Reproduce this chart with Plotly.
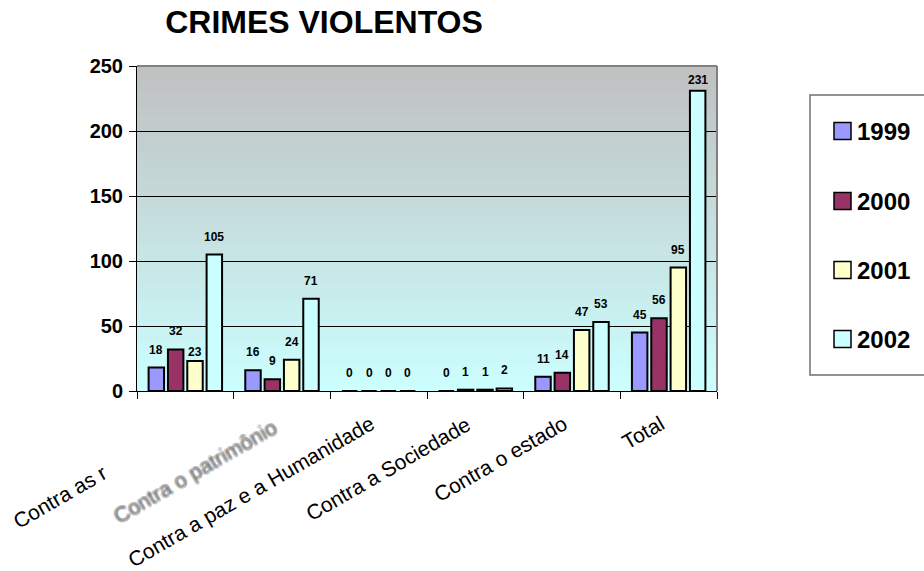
import math
import plotly.graph_objects as go

# --- data -------------------------------------------------------------
categories = ["Contra as r", "Contra o patrimônio", "Contra a paz e a Humanidade",
              "Contra a Sociedade", "Contra o estado", "Total"]
years = ["1999", "2000", "2001", "2002"]
v1999 = [18, 16, 0, 0, 11, 45]
v2000 = [32, 9, 0, 1, 14, 56]
v2001 = [23, 24, 0, 1, 47, 95]
v2002 = [105, 71, 0, 2, 53, 231]
series = [v1999, v2000, v2001, v2002]
colors = ["#9999ff", "#993366", "#ffffcc", "#ccffff"]
y_ticks = [0, 50, 100, 150, 200, 250]

# --- layout geometry (pixels) ----------------------------------------
W, H = 924, 571
L, R, T, B = 137, 207, 66, 180
PW, PH = W - L - R, H - T - B
FONT = "Liberation Sans, Arial"
BARGAP, GROUPGAP = 0.2, 0.2


def px_x(p):
    return (p - L) / PW


def px_y(p):
    return (H - B - p) / PH


fig = go.Figure()

for name, vals, col in zip(years, series, colors):
    fig.add_trace(go.Bar(
        x=categories, y=vals, name=name,
        marker=dict(color=col, line=dict(color="black", width=2)),
        showlegend=False,
    ))

annotations = []

# value labels above each bar
slot = (1 - BARGAP) / len(years)
label_lift = {(2, 0): 9, (3, 5): 11}   # (series, category) -> lift in px where labels sit lower
for si, vals in enumerate(series):
    off = -(1 - BARGAP) / 2 + slot * (si + 0.5)
    for ci, v in enumerate(vals):
        annotations.append(dict(
            text=str(v), x=ci + off, y=v, xref="x", yref="y",
            xanchor="center", yanchor="middle", yshift=label_lift.get((si, ci), 18),
            showarrow=False,
            font=dict(family=FONT, size=12, color="black", weight="bold")))

shapes = []
# vertical gradient background: grey at top fading to pale cyan at the base
top_c, bot_c = (192, 192, 192), (204, 255, 255)
N = 80
for i in range(N):
    t = (i + 0.5) / N
    c = tuple(round(bot_c[k] + (top_c[k] - bot_c[k]) * t) for k in range(3))
    shapes.append(dict(type="rect", xref="x domain", yref="y domain",
                       x0=0, x1=1, y0=i / N, y1=(i + 1) / N + 0.002,
                       fillcolor="rgb(%d,%d,%d)" % c, line=dict(width=0), layer="below"))
# grey frame on top and right of the plot area
shapes.append(dict(type="line", xref="x domain", yref="y domain", x0=0, x1=1, y0=1, y1=1,
                   line=dict(color="#808080", width=2), layer="above"))
shapes.append(dict(type="line", xref="x domain", yref="y domain", x0=1, x1=1, y0=0, y1=1,
                   line=dict(color="#808080", width=2), layer="above"))

# rotated category labels
lab_font = dict(family=FONT, size=21, color="black")
angle = -30
for i, cat in enumerate(categories):
    if i == 0:
        annotations.append(dict(text=cat, x=px_x(114), y=px_y(458), xref="paper", yref="paper",
                                xanchor="right", yanchor="top", textangle=angle,
                                showarrow=False, font=lab_font))
    elif i == 1:
        # soft, smudged label: several faint copies spread around the anchor
        offsets = [(0.0, 0.0)] + [(1.4 * math.cos(a * math.pi / 6), 1.4 * math.sin(a * math.pi / 6))
                                  for a in range(12)]
        for dx, dy in offsets:
            annotations.append(dict(text=cat, x=i, y=px_y(413), xref="x", yref="paper",
                                    xanchor="right", yanchor="top", textangle=angle,
                                    xshift=1 + dx, yshift=dy, showarrow=False,
                                    font=dict(family=FONT, size=21,
                                              color="rgba(60,60,60,0.11)")))
    else:
        annotations.append(dict(text=cat, x=i, y=px_y(409), xref="x", yref="paper",
                                xanchor="right", yanchor="top", textangle=angle,
                                xshift=2, showarrow=False, font=lab_font))

# legend drawn as boxes and text
shapes.append(dict(type="rect", xref="paper", yref="paper",
                   x0=px_x(810), x1=px_x(935), y0=px_y(375), y1=px_y(95),
                   line=dict(color="#707070", width=1.5), fillcolor="white", layer="above"))
leg_y = [131, 201, 270, 339]
for name, col, yc in zip(years, colors, leg_y):
    shapes.append(dict(type="rect", xref="paper", yref="paper",
                       x0=px_x(834), x1=px_x(851), y0=px_y(yc + 8.5), y1=px_y(yc - 8.5),
                       fillcolor=col, line=dict(color="black", width=1.5), layer="above"))
    annotations.append(dict(text=name, x=px_x(855), y=px_y(yc), xref="paper", yref="paper",
                            xanchor="left", yanchor="middle", showarrow=False,
                            font=dict(family=FONT, size=24, color="black", weight="bold")))

fig.update_layout(
    width=W, height=H,
    margin=dict(l=L, r=R, t=T, b=B, autoexpand=False),
    paper_bgcolor="white", plot_bgcolor="rgba(0,0,0,0)",
    barmode="group", bargap=BARGAP, bargroupgap=GROUPGAP,
    title=dict(text="CRIMES VIOLENTOS", x=px_x(324), xref="paper", xanchor="center",
               y=1 - 22 / H, yanchor="middle",
               font=dict(family=FONT, size=32, color="black", weight="bold")),
    shapes=shapes, annotations=annotations,
    xaxis=dict(range=[-0.5, len(categories) - 0.5], autorange=False,
               showticklabels=False, ticks="outside", tickson="boundaries", ticklen=7,
               tickcolor="black", showline=True, linecolor="black", linewidth=1,
               showgrid=False, zeroline=False),
    yaxis=dict(range=[0, 250], autorange=False, tickvals=y_ticks, ticks="outside", ticklen=7,
               tickcolor="black", showline=True, linecolor="black", linewidth=1,
               showgrid=True, gridcolor="black", gridwidth=1, zeroline=False,
               ticklabelstandoff=2,
               tickfont=dict(family=FONT, size=20, color="black", weight="bold")),
)

fig.write_html("out.html")
